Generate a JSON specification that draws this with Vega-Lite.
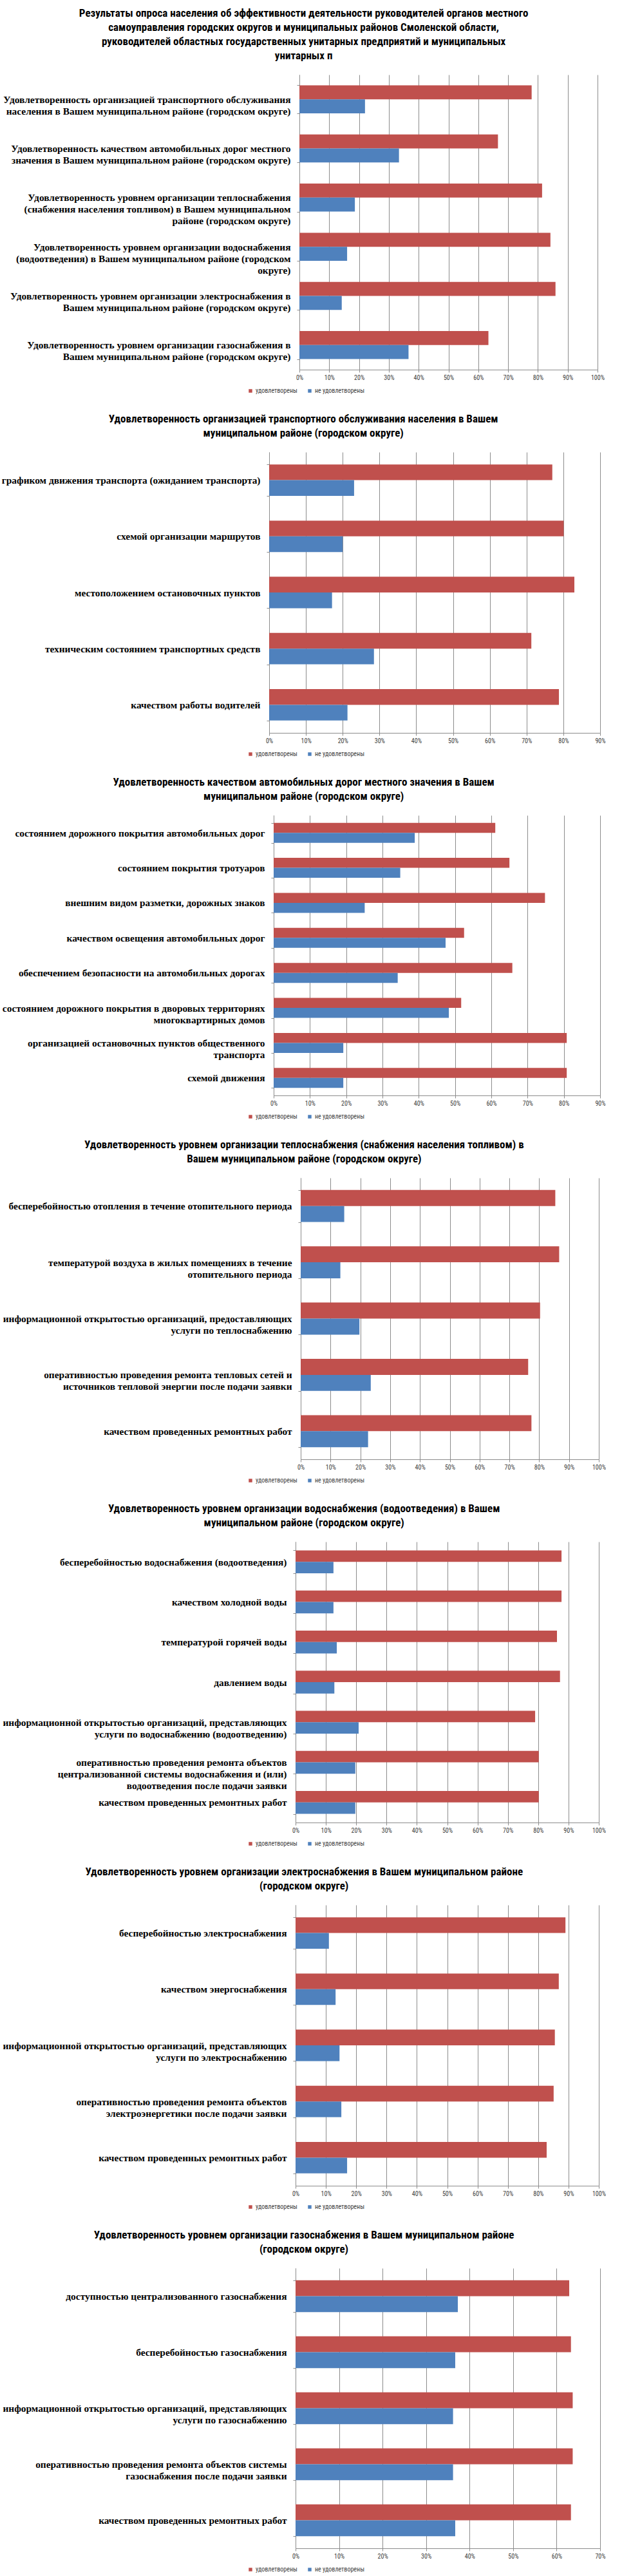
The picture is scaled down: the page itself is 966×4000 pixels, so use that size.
{
  "$schema": "https://vega.github.io/schema/vega-lite/v6.json",
  "background": "white",
  "padding": {"left": 2, "top": 12, "right": 0, "bottom": 0},
  "datasets": {
    "p1": [
      {"category": "Удовлетворенность организацией транспортного обслуживания\nнаселения в Вашем муниципальном районе (городском округе)", "group": "удовлетворены", "value": 77.9},
      {"category": "Удовлетворенность организацией транспортного обслуживания\nнаселения в Вашем муниципальном районе (городском округе)", "group": "не удовлетворены", "value": 22.0},
      {"category": "Удовлетворенность качеством автомобильных дорог местного\nзначения в Вашем муниципальном районе (городском округе)", "group": "удовлетворены", "value": 66.6},
      {"category": "Удовлетворенность качеством автомобильных дорог местного\nзначения в Вашем муниципальном районе (городском округе)", "group": "не удовлетворены", "value": 33.4},
      {"category": "Удовлетворенность уровнем организации теплоснабжения\n(снабжения населения топливом) в Вашем муниципальном\nрайоне (городском округе)", "group": "удовлетворены", "value": 81.4},
      {"category": "Удовлетворенность уровнем организации теплоснабжения\n(снабжения населения топливом) в Вашем муниципальном\nрайоне (городском округе)", "group": "не удовлетворены", "value": 18.6},
      {"category": "Удовлетворенность уровнем организации водоснабжения\n(водоотведения) в Вашем муниципальном районе (городском\nокруге)", "group": "удовлетворены", "value": 84.2},
      {"category": "Удовлетворенность уровнем организации водоснабжения\n(водоотведения) в Вашем муниципальном районе (городском\nокруге)", "group": "не удовлетворены", "value": 16.0},
      {"category": "Удовлетворенность уровнем организации электроснабжения в\nВашем муниципальном районе (городском округе)", "group": "удовлетворены", "value": 85.9},
      {"category": "Удовлетворенность уровнем организации электроснабжения в\nВашем муниципальном районе (городском округе)", "group": "не удовлетворены", "value": 14.2},
      {"category": "Удовлетворенность уровнем организации газоснабжения в\nВашем муниципальном районе (городском округе)", "group": "удовлетворены", "value": 63.4},
      {"category": "Удовлетворенность уровнем организации газоснабжения в\nВашем муниципальном районе (городском округе)", "group": "не удовлетворены", "value": 36.6}
    ],
    "p2": [
      {"category": "графиком движения транспорта (ожиданием транспорта)", "group": "удовлетворены", "value": 77.0},
      {"category": "графиком движения транспорта (ожиданием транспорта)", "group": "не удовлетворены", "value": 23.1},
      {"category": "схемой организации маршрутов", "group": "удовлетворены", "value": 80.1},
      {"category": "схемой организации маршрутов", "group": "не удовлетворены", "value": 20.0},
      {"category": "местоположением остановочных пунктов", "group": "удовлетворены", "value": 83.0},
      {"category": "местоположением остановочных пунктов", "group": "не удовлетворены", "value": 17.1},
      {"category": "техническим состоянием транспортных средств", "group": "удовлетворены", "value": 71.3},
      {"category": "техническим состоянием транспортных средств", "group": "не удовлетворены", "value": 28.5},
      {"category": "качеством работы водителей", "group": "удовлетворены", "value": 78.8},
      {"category": "качеством работы водителей", "group": "не удовлетворены", "value": 21.3}
    ],
    "p3": [
      {"category": "состоянием дорожного покрытия автомобильных дорог", "group": "удовлетворены", "value": 61.1},
      {"category": "состоянием дорожного покрытия автомобильных дорог", "group": "не удовлетворены", "value": 38.9},
      {"category": "состоянием покрытия тротуаров", "group": "удовлетворены", "value": 65.0},
      {"category": "состоянием покрытия тротуаров", "group": "не удовлетворены", "value": 34.9},
      {"category": "внешним видом разметки, дорожных знаков", "group": "удовлетворены", "value": 74.8},
      {"category": "внешним видом разметки, дорожных знаков", "group": "не удовлетворены", "value": 25.1},
      {"category": "качеством освещения автомобильных дорог", "group": "удовлетворены", "value": 52.5},
      {"category": "качеством освещения автомобильных дорог", "group": "не удовлетворены", "value": 47.4},
      {"category": "обеспечением безопасности на автомобильных дорогах", "group": "удовлетворены", "value": 65.8},
      {"category": "обеспечением безопасности на автомобильных дорогах", "group": "не удовлетворены", "value": 34.2},
      {"category": "состоянием дорожного покрытия в дворовых территориях\nмногоквартирных домов", "group": "удовлетворены", "value": 51.7},
      {"category": "состоянием дорожного покрытия в дворовых территориях\nмногоквартирных домов", "group": "не удовлетворены", "value": 48.3},
      {"category": "организацией остановочных пунктов общественного\nтранспорта", "group": "удовлетворены", "value": 80.8},
      {"category": "организацией остановочных пунктов общественного\nтранспорта", "group": "не удовлетворены", "value": 19.2},
      {"category": "схемой движения", "group": "удовлетворены", "value": 80.8},
      {"category": "схемой движения", "group": "не удовлетворены", "value": 19.2}
    ],
    "p4": [
      {"category": "бесперебойностью отопления в течение отопительного периода", "group": "удовлетворены", "value": 85.4},
      {"category": "бесперебойностью отопления в течение отопительного периода", "group": "не удовлетворены", "value": 14.6},
      {"category": "температурой воздуха в жилых помещениях в течение\nотопительного периода", "group": "удовлетворены", "value": 86.7},
      {"category": "температурой воздуха в жилых помещениях в течение\nотопительного периода", "group": "не удовлетворены", "value": 13.3},
      {"category": "информационной открытостью организаций, предоставляющих\nуслуги по теплоснабжению", "group": "удовлетворены", "value": 80.3},
      {"category": "информационной открытостью организаций, предоставляющих\nуслуги по теплоснабжению", "group": "не удовлетворены", "value": 19.7},
      {"category": "оперативностью проведения ремонта тепловых сетей и\nисточников тепловой энергии после подачи заявки", "group": "удовлетворены", "value": 76.3},
      {"category": "оперативностью проведения ремонта тепловых сетей и\nисточников тепловой энергии после подачи заявки", "group": "не удовлетворены", "value": 23.5},
      {"category": "качеством проведенных ремонтных работ", "group": "удовлетворены", "value": 77.4},
      {"category": "качеством проведенных ремонтных работ", "group": "не удовлетворены", "value": 22.6}
    ],
    "p5": [
      {"category": "бесперебойностью водоснабжения (водоотведения)", "group": "удовлетворены", "value": 87.7},
      {"category": "бесперебойностью водоснабжения (водоотведения)", "group": "не удовлетворены", "value": 12.5},
      {"category": "качеством холодной воды", "group": "удовлетворены", "value": 87.7},
      {"category": "качеством холодной воды", "group": "не удовлетворены", "value": 12.5},
      {"category": "температурой горячей воды", "group": "удовлетворены", "value": 86.2},
      {"category": "температурой горячей воды", "group": "не удовлетворены", "value": 13.6},
      {"category": "давлением воды", "group": "удовлетворены", "value": 87.2},
      {"category": "давлением воды", "group": "не удовлетворены", "value": 12.8},
      {"category": "информационной открытостью организаций, представляющих\nуслуги по водоснабжению (водоотведению)", "group": "удовлетворены", "value": 79.0},
      {"category": "информационной открытостью организаций, представляющих\nуслуги по водоснабжению (водоотведению)", "group": "не удовлетворены", "value": 20.8},
      {"category": "оперативностью проведения ремонта объектов\nцентрализованной системы водоснабжения и (или)\nводоотведения после подачи заявки", "group": "удовлетворены", "value": 80.2},
      {"category": "оперативностью проведения ремонта объектов\nцентрализованной системы водоснабжения и (или)\nводоотведения после подачи заявки", "group": "не удовлетворены", "value": 19.7},
      {"category": "качеством проведенных ремонтных работ", "group": "удовлетворены", "value": 80.2},
      {"category": "качеством проведенных ремонтных работ", "group": "не удовлетворены", "value": 19.7}
    ],
    "p6": [
      {"category": "бесперебойностью электроснабжения", "group": "удовлетворены", "value": 89.0},
      {"category": "бесперебойностью электроснабжения", "group": "не удовлетворены", "value": 11.0},
      {"category": "качеством энергоснабжения", "group": "удовлетворены", "value": 86.8},
      {"category": "качеством энергоснабжения", "group": "не удовлетворены", "value": 13.2},
      {"category": "информационной открытостью организаций, представляющих\nуслуги по электроснабжению", "group": "удовлетворены", "value": 85.5},
      {"category": "информационной открытостью организаций, представляющих\nуслуги по электроснабжению", "group": "не удовлетворены", "value": 14.5},
      {"category": "оперативностью проведения ремонта объектов\nэлектроэнергетики после подачи заявки", "group": "удовлетворены", "value": 85.1},
      {"category": "оперативностью проведения ремонта объектов\nэлектроэнергетики после подачи заявки", "group": "не удовлетворены", "value": 15.1},
      {"category": "качеством проведенных ремонтных работ", "group": "удовлетворены", "value": 82.8},
      {"category": "качеством проведенных ремонтных работ", "group": "не удовлетворены", "value": 17.0}
    ],
    "p7": [
      {"category": "доступностью централизованного газоснабжения", "group": "удовлетворены", "value": 62.9},
      {"category": "доступностью централизованного газоснабжения", "group": "не удовлетворены", "value": 37.3},
      {"category": "бесперебойностью газоснабжения", "group": "удовлетворены", "value": 63.3},
      {"category": "бесперебойностью газоснабжения", "group": "не удовлетворены", "value": 36.7},
      {"category": "информационной открытостью организаций, представляющих\nуслуги по газоснабжению", "group": "удовлетворены", "value": 63.7},
      {"category": "информационной открытостью организаций, представляющих\nуслуги по газоснабжению", "group": "не удовлетворены", "value": 36.2},
      {"category": "оперативностью проведения ремонта объектов системы\nгазоснабжения после подачи заявки", "group": "удовлетворены", "value": 63.7},
      {"category": "оперативностью проведения ремонта объектов системы\nгазоснабжения после подачи заявки", "group": "не удовлетворены", "value": 36.2},
      {"category": "качеством проведенных ремонтных работ", "group": "удовлетворены", "value": 63.3},
      {"category": "качеством проведенных ремонтных работ", "group": "не удовлетворены", "value": 36.7}
    ]
  },
  "columns": 1,
  "spacing": 30,
  "resolve": {
    "scale": {"x": "independent", "y": "independent", "yOffset": "independent"},
    "axis": {"x": "independent", "y": "independent"},
    "legend": {"color": "independent"}
  },
  "concat": [
    {
      "data": {"name": "p1"},
      "title": {"text": ["Результаты опроса населения об эффективности деятельности руководителей органов местного", "самоуправления городских округов и муниципальных районов Смоленской области,", "руководителей областных государственных унитарных предприятий и муниципальных", "унитарных п"]},
      "width": 510, "height": 458,
      "mark": {"type": "bar"},
      "encoding": {
        "y": {"field": "category", "type": "nominal", "sort": null, "title": null, "scale": {"paddingInner": 0.43, "paddingOuter": 0.215}, "axis": {"offset": -47}},
        "yOffset": {"field": "group", "type": "nominal", "sort": ["удовлетворены", "не удовлетворены"], "scale": {"paddingInner": 0, "paddingOuter": 0}},
        "x": {"field": "value", "type": "quantitative", "title": null, "scale": {"domain": [0, 100], "nice": false, "range": [47, 510]}, "axis": {"values": [0, 10, 20, 30, 40, 50, 60, 70, 80, 90, 100]}},
        "color": {"field": "group", "type": "nominal", "scale": {"domain": ["удовлетворены", "не удовлетворены"], "range": ["#C0504D", "#4F81BD"]}, "legend": {"legendX": -34, "legendY": 486}}
      }
    },
    {
      "data": {"name": "p2"},
      "title": {"text": ["Удовлетворенность организацией транспортного обслуживания населения в Вашем", "муниципальном районе (городском округе)"]},
      "width": 514, "height": 436,
      "mark": {"type": "bar"},
      "encoding": {
        "y": {"field": "category", "type": "nominal", "sort": null, "title": null, "scale": {"paddingInner": 0.44, "paddingOuter": 0.22}, "axis": {"offset": 0}},
        "yOffset": {"field": "group", "type": "nominal", "sort": ["удовлетворены", "не удовлетворены"], "scale": {"paddingInner": 0, "paddingOuter": 0}},
        "x": {"field": "value", "type": "quantitative", "title": null, "scale": {"domain": [0, 90], "nice": false, "range": [0, 514]}, "axis": {"values": [0, 10, 20, 30, 40, 50, 60, 70, 80, 90]}},
        "color": {"field": "group", "type": "nominal", "scale": {"domain": ["удовлетворены", "не удовлетворены"], "range": ["#C0504D", "#4F81BD"]}, "legend": {"legendX": -34, "legendY": 464}}
      }
    },
    {
      "data": {"name": "p3"},
      "title": {"text": ["Удовлетворенность качеством автомобильных дорог местного значения в Вашем", "муниципальном районе (городском округе)"]},
      "width": 514, "height": 435,
      "mark": {"type": "bar"},
      "encoding": {
        "y": {"field": "category", "type": "nominal", "sort": null, "title": null, "scale": {"paddingInner": 0.43, "paddingOuter": 0.215}, "axis": {"offset": -7}},
        "yOffset": {"field": "group", "type": "nominal", "sort": ["удовлетворены", "не удовлетворены"], "scale": {"paddingInner": 0, "paddingOuter": 0}},
        "x": {"field": "value", "type": "quantitative", "title": null, "scale": {"domain": [0, 90], "nice": false, "range": [7, 514]}, "axis": {"values": [0, 10, 20, 30, 40, 50, 60, 70, 80, 90]}},
        "color": {"field": "group", "type": "nominal", "scale": {"domain": ["удовлетворены", "не удовлетворены"], "range": ["#C0504D", "#4F81BD"]}, "legend": {"legendX": -34, "legendY": 463}}
      }
    },
    {
      "data": {"name": "p4"},
      "title": {"text": ["Удовлетворенность уровнем организации теплоснабжения (снабжения населения топливом) в", "Вашем муниципальном районе (городском округе)"]},
      "width": 512, "height": 437,
      "mark": {"type": "bar"},
      "encoding": {
        "y": {"field": "category", "type": "nominal", "sort": null, "title": null, "scale": {"paddingInner": 0.43, "paddingOuter": 0.215}, "axis": {"offset": -49}},
        "yOffset": {"field": "group", "type": "nominal", "sort": ["удовлетворены", "не удовлетворены"], "scale": {"paddingInner": 0, "paddingOuter": 0}},
        "x": {"field": "value", "type": "quantitative", "title": null, "scale": {"domain": [0, 100], "nice": false, "range": [49, 512]}, "axis": {"values": [0, 10, 20, 30, 40, 50, 60, 70, 80, 90, 100]}},
        "color": {"field": "group", "type": "nominal", "scale": {"domain": ["удовлетворены", "не удовлетворены"], "range": ["#C0504D", "#4F81BD"]}, "legend": {"legendX": -34, "legendY": 465}}
      }
    },
    {
      "data": {"name": "p5"},
      "title": {"text": ["Удовлетворенность уровнем организации водоснабжения (водоотведения) в Вашем", "муниципальном районе (городском округе)"]},
      "width": 512, "height": 436,
      "mark": {"type": "bar"},
      "encoding": {
        "y": {"field": "category", "type": "nominal", "sort": null, "title": null, "scale": {"paddingInner": 0.43, "paddingOuter": 0.215}, "axis": {"offset": -41}},
        "yOffset": {"field": "group", "type": "nominal", "sort": ["удовлетворены", "не удовлетворены"], "scale": {"paddingInner": 0, "paddingOuter": 0}},
        "x": {"field": "value", "type": "quantitative", "title": null, "scale": {"domain": [0, 100], "nice": false, "range": [41, 512]}, "axis": {"values": [0, 10, 20, 30, 40, 50, 60, 70, 80, 90, 100]}},
        "color": {"field": "group", "type": "nominal", "scale": {"domain": ["удовлетворены", "не удовлетворены"], "range": ["#C0504D", "#4F81BD"]}, "legend": {"legendX": -34, "legendY": 464}}
      }
    },
    {
      "data": {"name": "p6"},
      "title": {"text": ["Удовлетворенность уровнем организации электроснабжения в Вашем муниципальном районе", "(городском округе)"]},
      "width": 512, "height": 436,
      "mark": {"type": "bar"},
      "encoding": {
        "y": {"field": "category", "type": "nominal", "sort": null, "title": null, "scale": {"paddingInner": 0.44, "paddingOuter": 0.22}, "axis": {"offset": -41}},
        "yOffset": {"field": "group", "type": "nominal", "sort": ["удовлетворены", "не удовлетворены"], "scale": {"paddingInner": 0, "paddingOuter": 0}},
        "x": {"field": "value", "type": "quantitative", "title": null, "scale": {"domain": [0, 100], "nice": false, "range": [41, 512]}, "axis": {"values": [0, 10, 20, 30, 40, 50, 60, 70, 80, 90, 100]}},
        "color": {"field": "group", "type": "nominal", "scale": {"domain": ["удовлетворены", "не удовлетворены"], "range": ["#C0504D", "#4F81BD"]}, "legend": {"legendX": -34, "legendY": 464}}
      }
    },
    {
      "data": {"name": "p7"},
      "title": {"text": ["Удовлетворенность уровнем организации газоснабжения в Вашем муниципальном районе", "(городском округе)"]},
      "width": 514, "height": 435,
      "mark": {"type": "bar"},
      "encoding": {
        "y": {"field": "category", "type": "nominal", "sort": null, "title": null, "scale": {"paddingInner": 0.43, "paddingOuter": 0.215}, "axis": {"offset": -41}},
        "yOffset": {"field": "group", "type": "nominal", "sort": ["удовлетворены", "не удовлетворены"], "scale": {"paddingInner": 0, "paddingOuter": 0}},
        "x": {"field": "value", "type": "quantitative", "title": null, "scale": {"domain": [0, 70], "nice": false, "range": [41, 514]}, "axis": {"values": [0, 10, 20, 30, 40, 50, 60, 70]}},
        "color": {"field": "group", "type": "nominal", "scale": {"domain": ["удовлетворены", "не удовлетворены"], "range": ["#C0504D", "#4F81BD"]}, "legend": {"legendX": -34, "legendY": 463}}
      }
    }
  ],
  "config": {
    "view": {"stroke": null},
    "title": {"font": "Liberation Sans Narrow, Roboto Condensed, DejaVu Sans Condensed, Liberation Sans, sans-serif", "fontSize": 17, "fontWeight": "bold", "lineHeight": 22, "color": "#000000", "anchor": "middle", "frame": "bounds", "offset": 13},
    "axisX": {"grid": true, "gridColor": "#8c8c8c", "gridWidth": 1, "domainColor": "#8c8c8c", "tickColor": "#8c8c8c", "tickSize": 4, "labelFont": "Liberation Sans Narrow, Roboto Condensed, DejaVu Sans Condensed, sans-serif", "labelFontSize": 10, "labelColor": "#404040", "labelPadding": 3, "labelExpr": "datum.value + '%'", "labelFlush": false},
    "axisY": {"grid": false, "domainColor": "#8c8c8c", "tickColor": "#8c8c8c", "tickSize": 4, "tickBand": "extent", "labelFont": "Liberation Serif", "labelFontSize": 15.4, "labelFontWeight": "bold", "labelColor": "#000000", "labelLineHeight": 18, "labelLimit": 700, "labelPadding": 10, "labelExpr": "(datum.extra || !isValid(datum.value)) ? '' : split(datum.value, '\\n')"},
    "legend": {"orient": "none", "direction": "horizontal", "title": null, "symbolType": "square", "symbolSize": 30, "symbolStrokeWidth": 0, "labelFont": "Liberation Sans Narrow, Roboto Condensed, DejaVu Sans Condensed, sans-serif", "labelFontSize": 10, "labelColor": "#404040", "columnPadding": 14, "labelOffset": 3},
    "bar": {"stroke": null}
  }
}
